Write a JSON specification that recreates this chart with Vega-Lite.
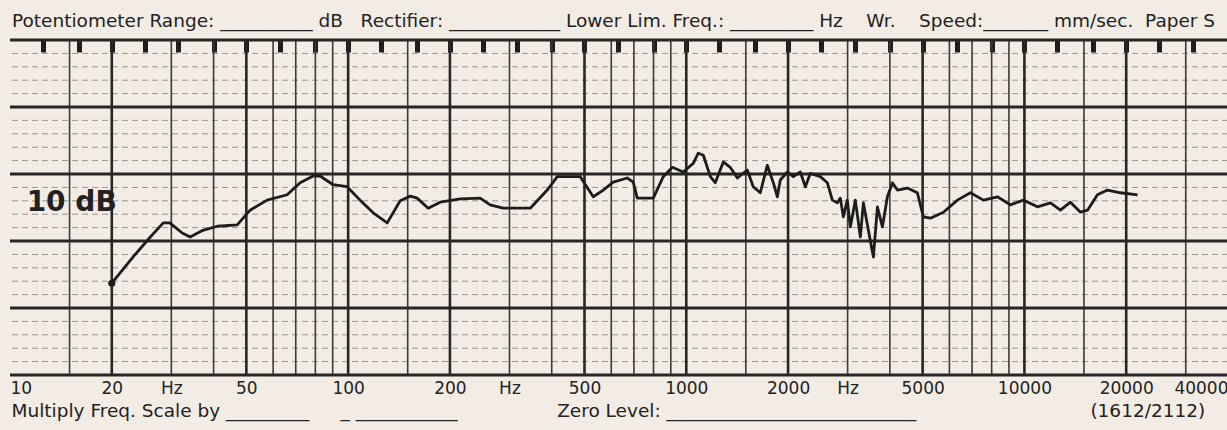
{
  "$schema": "https://vega.github.io/schema/vega-lite/v6.json",
  "width": 1218,
  "height": 335,
  "autosize": "none",
  "padding": {"left": 10, "top": 40, "right": 0, "bottom": 55},
  "background": "#f2ece4",
  "config": {"view": {"stroke": null}},
  "title": {
    "text": "Potentiometer Range: __________ dB\u00a0\u00a0\u00a0Rectifier: ____________ Lower Lim. Freq.: _________ Hz\u00a0\u00a0\u00a0\u00a0Wr.\u00a0\u00a0\u00a0\u00a0Speed:_______ mm/sec.\u00a0\u00a0Paper S",
    "anchor": "start",
    "frame": "group",
    "font": "DejaVu Sans",
    "fontSize": 18.5,
    "fontWeight": "normal",
    "color": "#222222",
    "baseline": "alphabetic",
    "offset": 13,
    "dx": 2,
    "dy": 21
  },
  "datasets": {
    "hminor": [{"db": 2}, {"db": 4}, {"db": 6}, {"db": 8}, {"db": 12}, {"db": 14}, {"db": 16}, {"db": 18}, {"db": 22}, {"db": 24}, {"db": 26}, {"db": 28}, {"db": 32}, {"db": 34}, {"db": 36}, {"db": 38}, {"db": 42}, {"db": 44}, {"db": 46}, {"db": 48}],
    "hmajor": [{"db": 0}, {"db": 10}, {"db": 20}, {"db": 30}, {"db": 40}, {"db": 50}],
    "vminor": [{"freq": 15}, {"freq": 30}, {"freq": 40}, {"freq": 60}, {"freq": 70}, {"freq": 80}, {"freq": 90}, {"freq": 150}, {"freq": 300}, {"freq": 400}, {"freq": 600}, {"freq": 700}, {"freq": 800}, {"freq": 900}, {"freq": 1500}, {"freq": 3000}, {"freq": 4000}, {"freq": 6000}, {"freq": 7000}, {"freq": 8000}, {"freq": 9000}, {"freq": 15000}, {"freq": 30000}],
    "vmajor": [{"freq": 20}, {"freq": 50}, {"freq": 100}, {"freq": 200}, {"freq": 500}, {"freq": 1000}, {"freq": 2000}, {"freq": 5000}, {"freq": 10000}, {"freq": 20000}],
    "curve": [
      {"freq": 20.0, "db": 13.7}, {"freq": 23.1, "db": 17.6}, {"freq": 26.0, "db": 20.6}, {"freq": 28.4, "db": 22.7}, {"freq": 29.7, "db": 22.7},
      {"freq": 32.3, "db": 21.2}, {"freq": 34.1, "db": 20.6}, {"freq": 37.2, "db": 21.6}, {"freq": 41.0, "db": 22.2}, {"freq": 47.0, "db": 22.4},
      {"freq": 51.3, "db": 24.6}, {"freq": 57.6, "db": 26.1}, {"freq": 66.0, "db": 26.9}, {"freq": 72.1, "db": 28.7}, {"freq": 78.8, "db": 29.7},
      {"freq": 82.6, "db": 29.7}, {"freq": 90.3, "db": 28.4}, {"freq": 99.3, "db": 28.1}, {"freq": 108.5, "db": 26.1}, {"freq": 118.6, "db": 24.2},
      {"freq": 130.5, "db": 22.7}, {"freq": 142.5, "db": 26.0}, {"freq": 152.6, "db": 26.7}, {"freq": 160, "db": 26.4}, {"freq": 172.5, "db": 24.9},
      {"freq": 187.2, "db": 25.8}, {"freq": 214.5, "db": 26.3}, {"freq": 245.8, "db": 26.4}, {"freq": 263.1, "db": 25.4}, {"freq": 287.5, "db": 24.9},
      {"freq": 345.6, "db": 24.9}, {"freq": 388, "db": 27.6}, {"freq": 415.3, "db": 29.6}, {"freq": 485.8, "db": 29.6}, {"freq": 530.7, "db": 26.6},
      {"freq": 568.2, "db": 27.6}, {"freq": 608.1, "db": 28.8}, {"freq": 669, "db": 29.4}, {"freq": 696.9, "db": 28.8}, {"freq": 716.1, "db": 26.4},
      {"freq": 798.8, "db": 26.4}, {"freq": 855.1, "db": 29.6}, {"freq": 909.2, "db": 31.0}, {"freq": 979.7, "db": 30.3}, {"freq": 1049, "db": 31.6},
      {"freq": 1085, "db": 33.1}, {"freq": 1123, "db": 32.8}, {"freq": 1178, "db": 29.6}, {"freq": 1218, "db": 28.7}, {"freq": 1287, "db": 31.8},
      {"freq": 1349, "db": 31.0}, {"freq": 1416, "db": 29.4}, {"freq": 1515, "db": 30.6}, {"freq": 1578, "db": 28.1}, {"freq": 1655, "db": 27.2},
      {"freq": 1736, "db": 31.3}, {"freq": 1809, "db": 28.7}, {"freq": 1859, "db": 26.6}, {"freq": 1897, "db": 29.1}, {"freq": 1990, "db": 30.3},
      {"freq": 2073, "db": 29.6}, {"freq": 2174, "db": 30.3}, {"freq": 2250, "db": 28.1}, {"freq": 2328, "db": 30.1}, {"freq": 2491, "db": 29.6},
      {"freq": 2613, "db": 28.7}, {"freq": 2704, "db": 26.1}, {"freq": 2798, "db": 25.7}, {"freq": 2855, "db": 26.4}, {"freq": 2914, "db": 23.6},
      {"freq": 2994, "db": 26.1}, {"freq": 3056, "db": 22.1}, {"freq": 3162, "db": 26.1}, {"freq": 3272, "db": 20.6}, {"freq": 3340, "db": 25.7},
      {"freq": 3456, "db": 21.6}, {"freq": 3576, "db": 17.6}, {"freq": 3675, "db": 25.1}, {"freq": 3802, "db": 22.1}, {"freq": 3934, "db": 26.6},
      {"freq": 4070, "db": 28.7}, {"freq": 4211, "db": 27.6}, {"freq": 4507, "db": 27.9}, {"freq": 4824, "db": 27.2}, {"freq": 5025, "db": 23.6},
      {"freq": 5271, "db": 23.4}, {"freq": 5760, "db": 24.3}, {"freq": 6337, "db": 26.1}, {"freq": 6921, "db": 27.2}, {"freq": 7563, "db": 26.1},
      {"freq": 8322, "db": 26.6}, {"freq": 9090, "db": 25.4}, {"freq": 9932, "db": 26.1}, {"freq": 10930, "db": 25.1}, {"freq": 11940, "db": 25.7},
      {"freq": 12780, "db": 24.6}, {"freq": 13680, "db": 25.8}, {"freq": 14650, "db": 24.3}, {"freq": 15370, "db": 24.6}, {"freq": 16440, "db": 26.9},
      {"freq": 17610, "db": 27.6}, {"freq": 19230, "db": 27.2}, {"freq": 21600, "db": 26.9}
    ],
    "notes": [
      {"note": "Multiply Freq. Scale by _________", "freq": 10.1, "db": -5.3},
      {"note": "_\u00a0___________", "freq": 95, "db": -5.3},
      {"note": "Zero Level: ___________________________", "freq": 415, "db": -5.3},
      {"note": "(1612/2112)", "freq": 15670, "db": -5.3}
    ],
    "scalelabel": [{"note": "10 dB", "freq": 11.2, "db": 25.7}]
  },
  "layer": [
    {
      "data": {"name": "hminor"},
      "mark": {"type": "rule", "stroke": "#5e5e5e", "strokeWidth": 1, "strokeDash": [6, 4], "opacity": 0.6},
      "encoding": {"y": {"field": "db", "type": "quantitative", "scale": {"domain": [0, 50], "zero": false, "nice": false}, "axis": null}}
    },
    {
      "data": {"name": "vminor"},
      "mark": {"type": "rule", "stroke": "#3a3a3a", "strokeWidth": 1.6},
      "encoding": {
        "x": {
          "field": "freq", "type": "quantitative",
          "scale": {"type": "log", "domain": [10, 40000], "nice": false},
          "axis": {
            "orient": "top", "title": null, "domain": false, "grid": false, "labels": false,
            "values": [12.5, 16, 20, 25, 31.5, 40, 50, 63, 80, 100, 125, 160, 200, 250, 315, 400, 500, 630, 800, 1000, 1250, 1600, 2000, 2500, 3150, 4000, 5000, 6300, 8000, 10000, 12500, 16000, 20000, 25000, 31500],
            "ticks": true, "tickSize": -12, "tickWidth": 5, "tickColor": "#1e1e1e", "tickCap": "butt"
          }
        }
      }
    },
    {
      "data": {"name": "vmajor"},
      "mark": {"type": "rule", "stroke": "#262626", "strokeWidth": 2.6},
      "encoding": {
        "x": {
          "field": "freq", "type": "quantitative",
          "scale": {"type": "log", "domain": [10, 40000], "nice": false},
          "axis": {
            "orient": "bottom", "title": null, "domain": false, "ticks": false, "grid": false,
            "values": [10, 20, 30, 50, 100, 200, 300, 500, 1000, 2000, 3000, 5000, 10000, 20000, 40000],
            "labelExpr": "datum.value == 30 || datum.value == 300 || datum.value == 3000 ? 'Hz' : format(datum.value, 'd')",
            "labelFlush": true, "labelOverlap": false,
            "labelFont": "DejaVu Sans", "labelFontSize": 17, "labelColor": "#222222", "labelPadding": 5
          }
        }
      }
    },
    {
      "data": {"name": "hmajor"},
      "mark": {"type": "rule", "stroke": "#262626", "strokeWidth": 2.8},
      "encoding": {"y": {"field": "db", "type": "quantitative", "scale": {"domain": [0, 50], "zero": false, "nice": false}, "axis": null}}
    },
    {
      "data": {"name": "curve"},
      "mark": {"type": "line", "stroke": "#1c1c1c", "strokeWidth": 2.8, "strokeJoin": "round"},
      "encoding": {
        "x": {"field": "freq", "type": "quantitative", "scale": {"type": "log", "domain": [10, 40000], "nice": false}, "axis": null},
        "y": {"field": "db", "type": "quantitative", "scale": {"domain": [0, 50], "zero": false, "nice": false}, "axis": null}
      }
    },
    {
      "data": {"name": "curve"},
      "transform": [{"filter": "datum.freq <= 20"}],
      "mark": {"type": "point", "filled": true, "color": "#1c1c1c", "size": 50, "opacity": 1},
      "encoding": {
        "x": {"field": "freq", "type": "quantitative", "scale": {"type": "log", "domain": [10, 40000], "nice": false}, "axis": null},
        "y": {"field": "db", "type": "quantitative", "scale": {"domain": [0, 50], "zero": false, "nice": false}, "axis": null}
      }
    },
    {
      "data": {"name": "scalelabel"},
      "mark": {"type": "text", "font": "DejaVu Sans", "fontSize": 28, "fontWeight": "bold", "color": "#222222", "align": "left", "baseline": "middle"},
      "encoding": {
        "x": {"field": "freq", "type": "quantitative", "scale": {"type": "log", "domain": [10, 40000], "nice": false}, "axis": null},
        "y": {"field": "db", "type": "quantitative", "scale": {"domain": [0, 50], "zero": false, "nice": false}, "axis": null},
        "text": {"field": "note", "type": "nominal"}
      }
    },
    {
      "data": {"name": "notes"},
      "mark": {"type": "text", "font": "DejaVu Sans", "fontSize": 18.5, "color": "#222222", "align": "left", "baseline": "middle"},
      "encoding": {
        "x": {"field": "freq", "type": "quantitative", "scale": {"type": "log", "domain": [10, 40000], "nice": false}, "axis": null},
        "y": {"field": "db", "type": "quantitative", "scale": {"domain": [0, 50], "zero": false, "nice": false}, "axis": null},
        "text": {"field": "note", "type": "nominal"}
      }
    }
  ]
}
